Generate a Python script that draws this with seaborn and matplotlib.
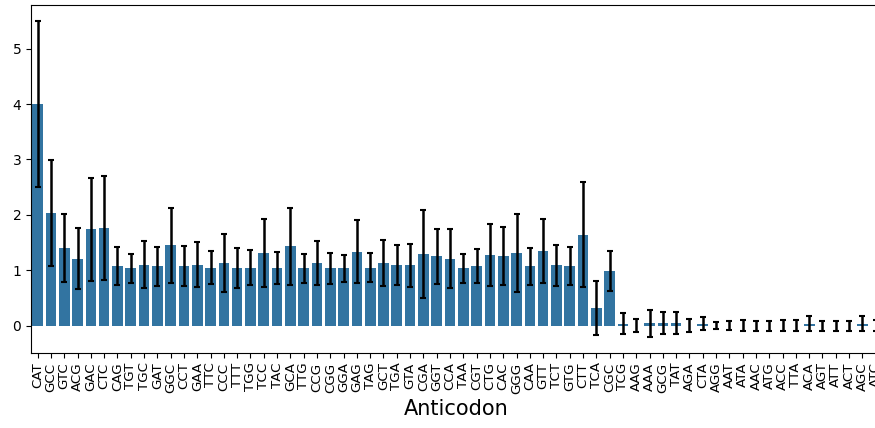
import matplotlib
matplotlib.use("Agg")
import matplotlib.pyplot as plt
import pandas as pd
import seaborn as sns

anticodons = [
    "CAT", "GCC", "GTC", "ACG", "GAC", "CTC", "CAG", "TGT", "TGC", "GAT",
    "GGC", "CCT", "GAA", "TTC", "CCC", "TTT", "TGG", "TCC", "TAC", "GCA",
    "TTG", "CCG", "CGG", "GGA", "GAG", "TAG", "GCT", "TGA", "GTA", "CGA",
    "GGT", "CCA", "TAA", "CGT", "CTG", "CAC", "GGG", "CAA", "GTT", "TCT",
    "GTG", "CTT", "TCA", "CGC", "TCG", "AAG", "AAA", "GCG", "TAT", "AGA",
    "CTA", "AGG", "AAT", "ATA", "AAC", "ATG", "ACC", "TTA", "ACA", "AGT",
    "ATT", "ACT", "AGC", "ATC",
]

mean_ratio = [
    4.00, 2.03, 1.40, 1.21, 1.74, 1.76, 1.07, 1.03, 1.10, 1.07,
    1.45, 1.07, 1.10, 1.045, 1.13, 1.045, 1.045, 1.31, 1.045, 1.43,
    1.03, 1.13, 1.03, 1.03, 1.33, 1.045, 1.13, 1.085, 1.085, 1.29,
    1.25, 1.21, 1.03, 1.07, 1.27, 1.25, 1.31, 1.07, 1.35, 1.085,
    1.07, 1.64, 0.31, 0.985, 0.03, 0.0, 0.04, 0.04, 0.04, 0.0,
    0.03, 0.0, 0.0, 0.0, 0.0, 0.0, 0.0, 0.0, 0.03, 0.0,
    0.0, 0.0, 0.03, 0.0,
]

sd_ratio = [
    1.50, 0.96, 0.62, 0.55, 0.93, 0.94, 0.34, 0.26, 0.42, 0.35,
    0.68, 0.36, 0.41, 0.30, 0.52, 0.36, 0.32, 0.62, 0.29, 0.69,
    0.27, 0.40, 0.28, 0.25, 0.57, 0.26, 0.41, 0.36, 0.39, 0.79,
    0.50, 0.54, 0.26, 0.31, 0.56, 0.52, 0.70, 0.33, 0.58, 0.37,
    0.34, 0.95, 0.49, 0.355, 0.19, 0.11, 0.245, 0.20, 0.20, 0.115,
    0.115, 0.07, 0.08, 0.10, 0.09, 0.09, 0.10, 0.10, 0.135, 0.09,
    0.09, 0.09, 0.135, 0.10,
]

df = pd.DataFrame({"Anticodon": anticodons, "ratio": mean_ratio, "sd": sd_ratio})

fig = plt.figure(figsize=(8.75, 4.28), dpi=100)
# the axes run slightly past the right edge of the canvas
ax = fig.add_axes([0.0354, 0.176, 0.973, 0.812])

sns.barplot(data=df, x="Anticodon", y="ratio", errorbar=None, ax=ax)
ax.errorbar(
    x=range(len(df)), y=df["ratio"], yerr=df["sd"], fmt="none",
    ecolor="black", elinewidth=1.8, capsize=2, capthick=1.5,
)
ax.set_xlim(-0.5, len(df) - 0.5)

ax.set_ylabel("")
ax.set_xlabel("Anticodon", fontsize=15)
ax.tick_params(axis="x", labelrotation=90, labelsize=9.6)
ax.tick_params(axis="y", labelsize=10)

fig.savefig("out.png", dpi=100)
